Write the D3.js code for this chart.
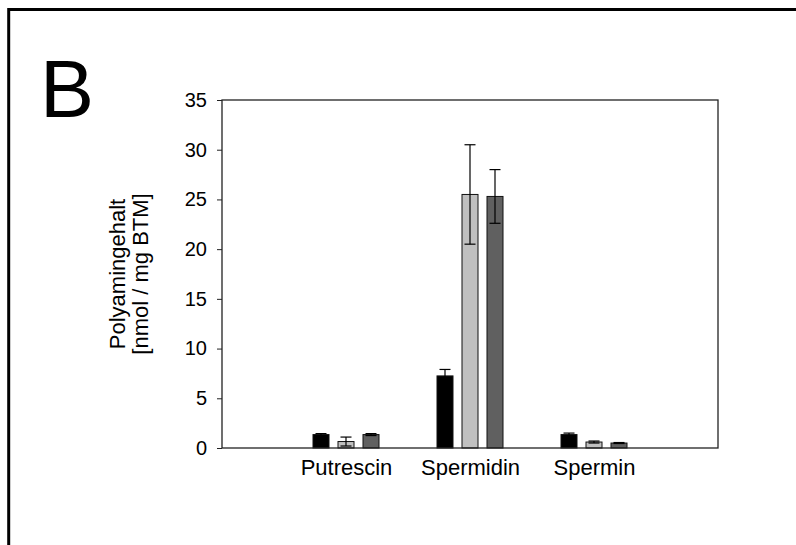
<!DOCTYPE html>
<html>
<head>
<meta charset="utf-8">
<script src="https://cdn.jsdelivr.net/npm/d3@7"></script>
<style>
  body { margin: 0; background: #fff; }
  svg { display: block; }
</style>
</head>
<body>
<div id="chart"></div>
<script>
// chart data
var categories = ["Putrescin", "Spermidin", "Spermin"];
var seriesBlack = [1.35, 7.25, 1.35];
var seriesBlackErr = [0.1, 0.65, 0.15];
var seriesLight = [0.65, 25.5, 0.6];
var seriesLightErr = [0.45, 5.0, 0.1];
var seriesDark = [1.35, 25.3, 0.5];
var seriesDarkErr = [0.1, 2.7, 0.05];
var yTicks = [0, 5, 10, 15, 20, 25, 30, 35];
var seriesColors = ["#000000", "#c0c0c0", "#606060"];

var width = 796, height = 545;
var plot = {left: 222, right: 718, top: 100, bottom: 448};

var svg = d3.select("#chart")
  .append("svg")
  .attr("width", width)
  .attr("height", height);

// frame (top and left edges)
svg.append("line")
  .attr("x1", 8).attr("x2", width)
  .attr("y1", 9.5).attr("y2", 9.5)
  .attr("stroke", "#000").attr("stroke-width", 3);
svg.append("line")
  .attr("x1", 8.7).attr("x2", 8.7)
  .attr("y1", 8).attr("y2", height)
  .attr("stroke", "#000").attr("stroke-width", 3);

// panel letter
svg.append("text")
  .attr("x", 40)
  .attr("y", 117)
  .attr("font-family", "Liberation Sans, Arial, sans-serif")
  .attr("font-size", 81)
  .text("B");

// scales
var x0 = d3.scalePoint()
  .domain(categories)
  .range([plot.left, plot.right])
  .padding(1);

var x1 = d3.scaleBand()
  .domain([0, 1, 2])
  .range([-33, 33])
  .paddingInner(0.36);

var y = d3.scaleLinear()
  .domain([0, 35])
  .range([plot.bottom, plot.top]);

// build rows from the arrays
var series = [
  {values: seriesBlack, errs: seriesBlackErr},
  {values: seriesLight, errs: seriesLightErr},
  {values: seriesDark, errs: seriesDarkErr}
];
var rows = [];
categories.forEach(function(c, i) {
  series.forEach(function(s, j) {
    rows.push({cat: c, s: j, value: s.values[i], err: s.errs[i]});
  });
});

// bars
svg.append("g")
  .selectAll("rect")
  .data(rows)
  .join("rect")
  .attr("x", d => x0(d.cat) + x1(d.s))
  .attr("y", d => y(d.value))
  .attr("width", x1.bandwidth())
  .attr("height", d => y(0) - y(d.value))
  .attr("fill", d => seriesColors[d.s])
  .attr("stroke", "#111")
  .attr("stroke-width", 1);

// error bars
var eb = svg.append("g")
  .attr("stroke", "#000")
  .attr("stroke-width", 1.2);
var capW = 5.5;
rows.forEach(function(d) {
  var cx = x0(d.cat) + x1(d.s) + x1.bandwidth() / 2;
  var lo = y(Math.max(0, d.value - d.err));
  var hi = y(d.value + d.err);
  eb.append("line").attr("x1", cx).attr("x2", cx).attr("y1", lo).attr("y2", hi);
  eb.append("line").attr("x1", cx - capW).attr("x2", cx + capW).attr("y1", hi).attr("y2", hi);
  eb.append("line").attr("x1", cx - capW).attr("x2", cx + capW).attr("y1", lo).attr("y2", lo);
});

// plot box
svg.append("rect")
  .attr("x", plot.left)
  .attr("y", plot.top)
  .attr("width", plot.right - plot.left)
  .attr("height", plot.bottom - plot.top)
  .attr("fill", "none")
  .attr("stroke", "#222")
  .attr("stroke-width", 1.3);

// y axis
var yAxis = svg.append("g")
  .attr("transform", `translate(${plot.left}, 0)`)
  .call(d3.axisLeft(y).tickValues(yTicks).tickSize(5).tickPadding(10));
yAxis.select(".domain").remove();
yAxis.selectAll("line").attr("stroke", "#222");
yAxis.selectAll("text")
  .attr("font-family", "Liberation Sans, Arial, sans-serif")
  .attr("font-size", 20)
  .attr("fill", "#000");

// x axis labels
var xAxis = svg.append("g")
  .attr("transform", `translate(0, ${plot.bottom})`)
  .call(d3.axisBottom(x0).tickSize(0).tickPadding(11));
xAxis.select(".domain").remove();
xAxis.selectAll("text")
  .attr("font-family", "Liberation Sans, Arial, sans-serif")
  .attr("font-size", 22)
  .attr("fill", "#000");

// y label (two lines)
var yl = svg.append("text")
  .attr("transform", `translate(125, ${(plot.top + plot.bottom) / 2}) rotate(-90)`)
  .attr("text-anchor", "middle")
  .attr("font-family", "Liberation Sans, Arial, sans-serif")
  .attr("font-size", 22)
  .attr("fill", "#000");
yl.append("tspan").attr("x", 0).attr("dy", 0).text("Polyamingehalt");
yl.append("tspan").attr("x", 0).attr("dy", 23).text("[nmol / mg BTM]");
</script>
</body>
</html>
